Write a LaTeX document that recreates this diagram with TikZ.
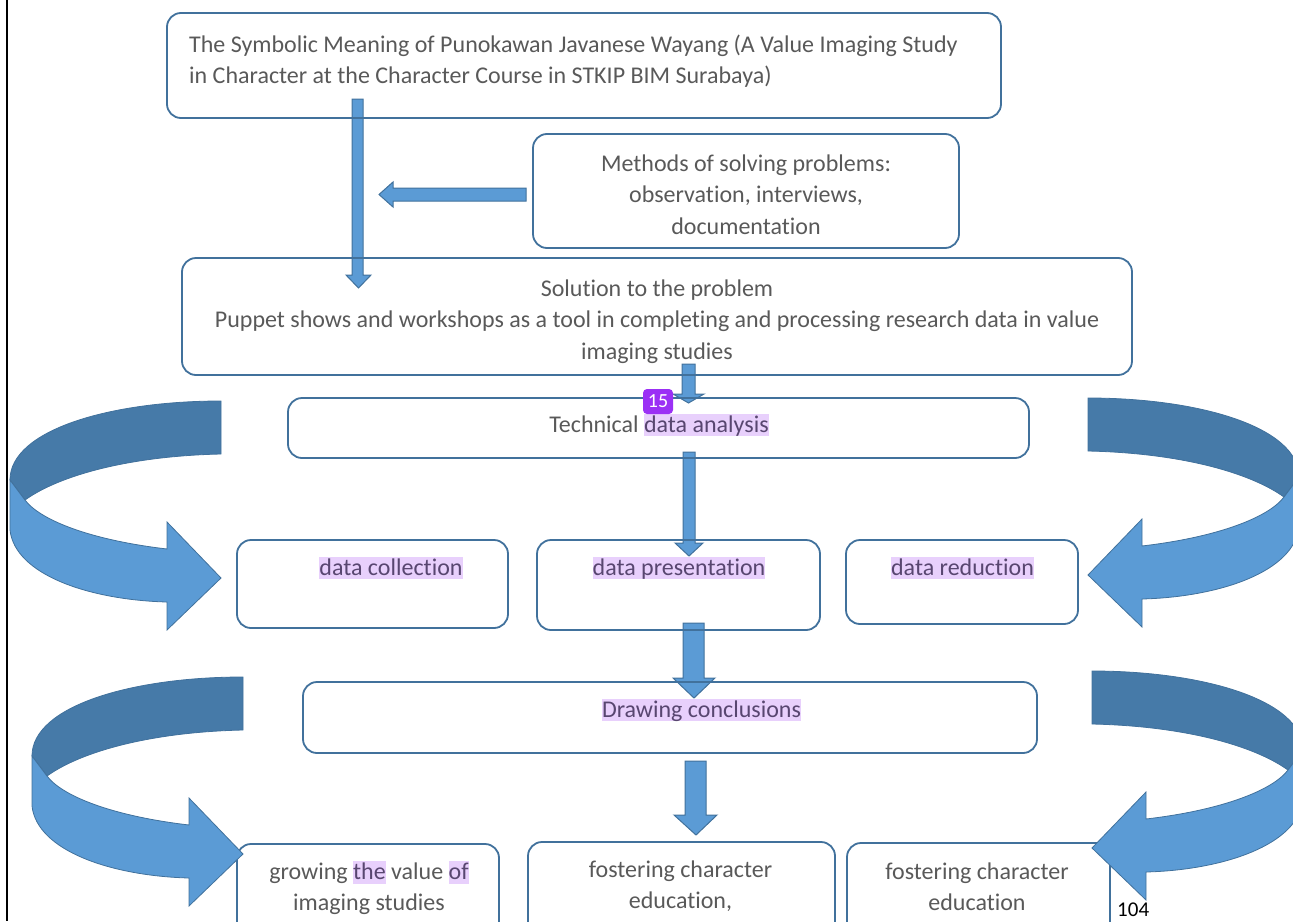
\documentclass[tikz,border=0pt]{standalone}
\usepackage{fontspec}
\setmainfont[Ligatures=NoCommon,RawFeature={-liga;-calt;-clig;-dlig}]{Carlito}
\definecolor{boxline}{RGB}{65,113,156}
\definecolor{arrfill}{RGB}{91,155,213}
\definecolor{arrdark}{RGB}{70,122,168}
\definecolor{txtgray}{RGB}{89,89,89}
\definecolor{hlbg}{RGB}{232,208,252}
\definecolor{hltxt}{RGB}{88,70,112}
\definecolor{badgecol}{RGB}{155,48,245}
\newcommand{\hlt}[1]{{\setlength{\fboxsep}{0pt}\colorbox{hlbg}{\color{hltxt}\rule[-0.18em]{0pt}{0.93em}#1}}}
\newcommand{\curvedblockarrow}{%
  \path[fill=arrdark, draw=boxline, line width=0.8pt] (221,401) -- (221,454) .. controls (130,456) and (60,475) .. (25,500) -- (10,480) .. controls (10,430) and (110,401) .. (221,401) -- cycle;
  \path[fill=arrfill, draw=boxline, line width=0.8pt] (10,480) -- (10,530) .. controls (15,575) and (90,600) .. (167,602) -- (167,630) -- (221,578) -- (167,522) -- (167,549) .. controls (90,540) and (40,520) .. (25,500) -- cycle;}
\tikzset{
  box/.style={draw=boxline, line width=1.8pt, rounded corners=14pt, rectangle, inner sep=0pt},
  blockarr/.style={fill=arrfill, draw=boxline, line width=1pt, line join=miter},
  lbl/.style={text=txtgray, font=\fontsize{24}{31}\selectfont, inner sep=0pt},
  lblw/.style={text=txtgray, font=\fontsize{24}{31.5}\selectfont, inner sep=0pt},
}
\begin{document}
\begin{tikzpicture}[x=1pt,y=-1pt]
\useasboundingbox (0,0) rectangle (1293,921);
\clip (0,0) rectangle (1293,921);
\draw[line width=2pt, black] (7,0) -- (7,921);

% straight block arrows
\path[blockarr] (352,99) -- (363,99) -- (363,275) -- (371,275) -- (358.5,288) -- (346,275) -- (352,275) -- cycle;
\path[blockarr] (526,188) -- (526,201) -- (393,201) -- (393,207) -- (379,194.5) -- (393,182) -- (393,188) -- cycle;
\path[blockarr] (682,364) -- (695,364) -- (695,394) -- (704,394) -- (688.5,403) -- (673,394) -- (682,394) -- cycle;
\path[blockarr] (683,452) -- (695,452) -- (695,543) -- (703,543) -- (689,556) -- (675,543) -- (683,543) -- cycle;
\path[blockarr] (683,623) -- (704,623) -- (704,678) -- (715,678) -- (694,698) -- (673,678) -- (683,678) -- cycle;
\path[blockarr] (685,761) -- (706,761) -- (706,815) -- (717,815) -- (696,835) -- (674,815) -- (685,815) -- cycle;

% boxes
\node[box, minimum width=834pt, minimum height=105pt] (top) at (584,65.5) {};
\node[box, minimum width=426pt, minimum height=114pt] (methods) at (746,191) {};
\node[box, minimum width=950pt, minimum height=117pt] (solution) at (657,316.5) {};
\node[box, minimum width=741pt, minimum height=60pt] (tech) at (658.5,428) {};
\node[box, minimum width=271pt, minimum height=88pt] (dcoll) at (372.5,584) {};
\node[box, minimum width=283pt, minimum height=90pt] (dpres) at (678.5,585) {};
\node[box, minimum width=232pt, minimum height=84pt] (dred) at (962,582) {};
\node[box, minimum width=734pt, minimum height=71pt] (concl) at (670,717.5) {};
\node[box, minimum width=262pt, minimum height=116pt] (grow) at (368,902) {};
\node[box, minimum width=307pt, minimum height=118pt] (fostA) at (681.5,901) {};
\node[box, minimum width=263pt, minimum height=117pt] (fostB) at (978.5,901.5) {};

% curved block arrows
\begin{scope}
  \curvedblockarrow
\end{scope}
\begin{scope}[shift={(22,276)}]
  \curvedblockarrow
\end{scope}
\begin{scope}[shift={(1309,-3)}, xscale=-1]
  \curvedblockarrow
\end{scope}
\begin{scope}[shift={(1313,270)}, xscale=-1]
  \curvedblockarrow
\end{scope}

% texts
\node[lbl, anchor=north west, align=left] (topt) at (189,30.3)
  {\strut The Symbolic Meaning of Punokawan Javanese Wayang (A Value Imaging Study\\\strut in Character at the Character Course in STKIP BIM Surabaya)};
\node[lblw, anchor=north, align=center] (methodst) at (746,148.95)
  {\strut Methods of solving problems:\\\strut observation, interviews,\\\strut documentation};
\node[lblw, anchor=north, align=center] (solutiont) at (657,273.95)
  {\strut Solution to the problem\\\strut Puppet shows and workshops as a tool in completing and processing research data in value\\\strut imaging studies};
\node[lbl, anchor=base] (techt) at (659,432) {Technical \hlt{data analysis}};
\node[lbl, anchor=base] (dcollt) at (391,575) {\hlt{data collection}};
\node[lbl, anchor=base] (dprest) at (679,575) {\hlt{data presentation}};
\node[lbl, anchor=base] (dredt) at (962.5,575) {\hlt{data reduction}};
\node[lbl, anchor=base] (conclt) at (701.5,717) {\hlt{Drawing conclusions}};
\node[lbl, anchor=north, align=center] (growt) at (369,857.3)
  {\strut growing \hlt{the} value \hlt{of}\\\strut imaging studies};
\node[lbl, anchor=north, align=center] (fostAt) at (680.5,855.3)
  {\strut fostering character\\\strut education,};
\node[lbl, anchor=north, align=center] (fostBt) at (977,857.3)
  {\strut fostering character\\\strut education};
\node[fill=badgecol, rounded corners=4pt, minimum width=30pt, minimum height=25pt, inner sep=0pt,
      text=white, font=\fontsize{20}{22}\selectfont] (badge) at (658,401.5) {15};
\node[anchor=base west, inner sep=0pt, text=black, font=\fontsize{21}{25}\selectfont] (pagenum) at (1117,916.5) {104};
\end{tikzpicture}
\end{document}
